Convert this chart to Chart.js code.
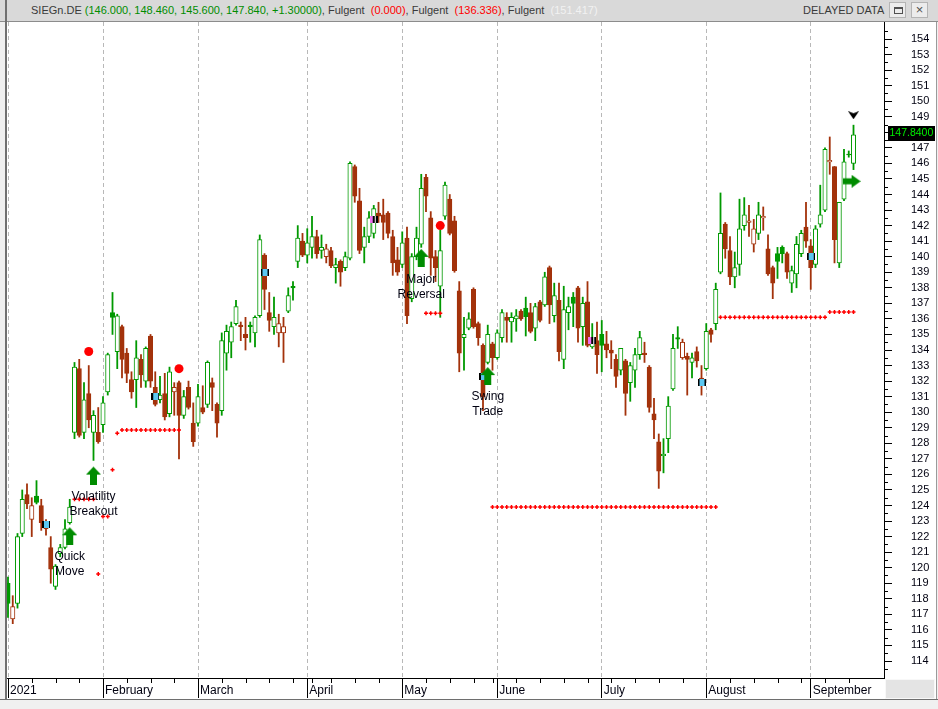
<!DOCTYPE html>
<html><head><meta charset="utf-8">
<script src="https://cdn.jsdelivr.net/npm/chart.js"></script>
<style>
html,body{margin:0;padding:0;}
body{width:938px;height:709px;background:#f0f0f0;position:relative;overflow:hidden;font-family:'Liberation Sans',Arial,sans-serif;}
#titlebar{position:absolute;left:0;top:0;width:938px;height:22px;background:#d9d9d9;border-bottom:1px solid #8c8c8c;box-sizing:border-box;}
#ttl{position:absolute;left:31px;top:4px;font-size:11px;color:#3a3a3a;white-space:pre;}
#delayed{position:absolute;left:803px;top:4px;font-size:11px;color:#3a3a3a;white-space:pre;}
.btn{position:absolute;top:2px;width:17px;height:16px;background:#ececec;border:1px solid #b4b4b4;box-sizing:border-box;}
#wrap{position:absolute;left:7px;top:22px;width:929px;height:677px;background:#fff;}
#frameL{position:absolute;left:5px;top:0px;width:2px;height:700px;background:#707070;}
#frameR{position:absolute;left:936px;top:22px;width:1px;height:678px;background:#9a9a9a;}
#corner{position:absolute;left:885px;top:679px;width:50px;height:20px;background:#e4e4e4;border:1px solid #f8f8f8;box-sizing:border-box;}
#bottom{position:absolute;left:0;top:699px;width:938px;height:10px;background:#f0f0f0;border-top:1px solid #6e6e6e;box-sizing:border-box;}
</style></head>
<body>
<div id="titlebar">
  <div id="ttl">SIEGn.DE <span id="ohlc" style="color:#008c00"></span>, Fulgent  <span id="f1" style="color:#ff0000"></span>, Fulgent  <span id="f2" style="color:#ff0000"></span>, Fulgent  <span id="f3" style="color:#f2f2f2"></span></div>
  <div id="delayed">DELAYED DATA</div>
  <div class="btn" style="left:889px"><div style="position:absolute;left:4px;top:4px;width:7px;height:4px;border:1px solid #505050;border-top-width:2px;"></div></div>
  <div class="btn" style="left:911px;text-align:center;line-height:13px;font-size:13px;color:#505050;">×</div>
</div>
<div id="frameL"></div>
<div id="wrap"><canvas id="c" width="929" height="677"></canvas></div>
<div id="frameR"></div>
<div id="corner"></div>
<div id="bottom"></div>
<script>
// ---------------- data ----------------
const monthLabels = ['2021','February','March','April','May','June','July','August','September'];
const monthStartBar = [0,20,40,63,83,103,125,147,169];
const weekStartBar = [5,10,15,25,30,35,45,50,55,60,64,68,73,78,88,93,98,102,107,112,117,122,127,132,137,142,152,157,162,167,172,177];
const priceTicks = [114,115,116,117,118,119,120,121,122,123,124,125,126,127,128,129,130,131,132,133,134,135,136,137,138,139,140,141,142,143,144,145,146,147,148,149,150,151,152,153,154];

const opens = [119.0,116.7,117.7,122.2,124.7,123.1,124.6,124.0,122.9,121.3,
118.8,120.9,121.3,122.9,128.7,132.8,128.7,131.2,128.7,128.7,
129.2,131.3,136.4,133.9,135.5,133.8,132.1,132.1,133.4,132.0,
134.9,131.6,130.8,131.2,129.9,131.3,131.9,129.8,131.6,129.3,
129.3,130.3,130.5,131.9,130.5,130.1,133.8,134.5,135.7,135.6,
135.0,135.6,135.1,136.2,140.1,136.4,135.5,135.1,135.1,136.5,
138.1,139.7,141.0,140.1,140.6,141.3,140.4,140.0,140.4,139.3,
139.7,139.3,139.9,145.8,143.6,140.6,141.3,141.5,142.8,142.7,
142.8,141.3,139.8,139.5,141.2,137.3,140.0,140.8,145.1,142.5,
140.0,138.1,142.6,143.7,142.3,137.8,134.8,135.4,137.9,135.7,
134.3,133.2,134.4,133.5,134.8,136.1,135.8,136.0,136.5,136.7,
136.4,135.4,137.1,136.9,139.3,136.2,137.2,133.4,136.4,137.4,
138.0,135.5,137.1,134.2,134.6,135.0,134.4,134.0,133.4,132.7,
133.3,131.9,132.7,133.7,133.8,132.9,129.9,128.1,127.2,128.3,
131.5,134.8,133.5,133.6,133.2,133.9,132.2,132.8,135.3,135.7,
139.0,142.1,140.4,138.7,139.5,142.0,142.2,140.8,141.5,142.5,
140.5,139.3,140.2,140.6,140.2,138.3,138.9,140.2,141.9,140.7,
139.5,142.1,143.0,146.1,145.8,139.6,143.7,146.6,146.0];

const highs = [119.4,118.2,122.2,125.0,125.4,124.5,125.6,124.4,123.1,122.0,
120.2,121.5,123.1,124.4,133.2,133.4,131.9,133.0,130.1,130.3,
131.0,133.8,137.7,136.3,135.6,134.1,132.6,134.6,133.7,134.2,
135.0,132.6,132.3,132.5,132.9,131.9,132.0,131.4,132.0,130.6,
131.8,131.7,133.3,132.2,130.6,135.1,135.6,135.8,137.2,135.8,
136.1,135.8,136.2,141.4,140.2,137.7,137.4,136.3,136.1,138.0,
138.4,142.0,141.5,141.8,142.6,141.7,141.4,140.8,140.6,139.9,
139.8,140.3,146.1,145.9,144.4,141.9,142.9,143.3,143.5,143.7,
142.9,141.7,140.6,141.6,141.9,140.2,141.9,145.3,145.3,142.9,
140.4,141.7,144.8,144.0,142.6,138.4,136.1,136.4,138.0,135.8,
134.4,135.6,134.5,135.3,136.6,136.4,136.4,136.6,136.6,137.4,
137.0,137.0,137.2,139.0,139.4,138.3,138.3,138.1,137.4,137.7,
138.1,137.4,138.4,135.7,135.8,135.9,135.2,134.6,133.7,134.1,
133.4,133.2,134.1,135.2,134.5,133.0,130.9,128.6,128.3,131.0,
135.0,135.5,134.7,133.8,133.8,134.2,133.0,135.7,135.4,138.3,
144.1,142.2,141.3,140.3,143.7,143.8,143.3,142.4,143.5,143.2,
141.4,139.4,140.6,140.7,140.3,139.4,141.3,141.7,143.5,141.1,
142.0,144.6,147.0,147.7,145.8,143.5,146.9,146.8,148.46];

const lows = [116.8,116.4,117.4,122.0,123.8,122.0,124.1,122.4,122.1,119.0,
118.6,120.7,121.2,122.8,128.3,128.4,128.3,129.0,126.9,128.0,
128.7,131.1,135.0,132.8,132.2,131.9,130.9,130.3,131.6,131.6,
131.6,130.4,130.6,129.5,129.7,129.8,127.0,129.6,130.2,127.8,
129.1,129.9,130.3,130.1,128.4,129.8,132.7,133.5,135.6,134.6,
134.0,134.5,134.2,136.1,136.6,135.2,135.0,134.2,133.2,136.4,
137.2,139.3,140.0,139.6,139.9,139.9,139.9,139.6,139.3,138.3,
138.1,139.1,139.8,143.5,140.2,139.6,140.9,141.2,142.2,141.1,
141.2,138.8,138.8,139.3,135.7,137.1,139.8,140.6,142.9,138.8,
138.4,136.1,142.4,141.4,139.0,132.6,132.7,135.3,135.4,134.3,
130.1,133.1,132.7,133.4,134.5,134.5,134.5,135.2,135.9,134.9,
135.1,134.6,135.8,136.8,135.7,135.8,133.3,132.8,135.3,135.5,
134.5,134.3,134.2,134.1,132.5,132.6,133.5,132.8,131.6,132.4,
129.8,130.7,131.6,133.4,133.2,130.0,128.3,125.1,126.1,127.4,
131.4,134.1,133.4,131.1,132.2,132.9,131.1,132.7,134.5,135.3,
138.9,139.9,138.2,138.0,138.8,141.7,141.3,140.3,141.1,141.7,
138.8,137.3,138.6,139.6,138.6,137.7,138.0,140.0,140.6,137.9,
139.3,141.9,142.9,145.3,139.6,139.3,143.6,146.4,145.6];

const closes = [117.7,117.5,122.0,124.4,124.1,124.0,124.2,122.9,122.5,119.9,
120.1,121.3,122.5,123.9,132.9,128.5,130.8,129.5,129.8,128.1,
130.6,133.7,136.1,136.2,133.4,132.5,131.3,133.5,132.4,134.1,
132.0,130.5,131.1,129.7,132.6,131.6,129.8,131.0,130.3,128.1,
131.0,130.0,133.2,131.6,129.3,134.6,135.2,135.5,136.8,135.5,
134.8,135.5,136.1,141.1,137.9,135.9,136.1,135.7,135.5,137.5,
138.0,141.2,140.1,140.9,141.3,140.2,140.6,140.5,139.4,139.5,
139.0,140.0,146.0,143.9,140.4,141.3,142.5,143.1,142.6,142.2,
141.5,139.6,139.0,140.9,136.2,140.0,141.2,144.4,143.9,139.9,
139.3,140.4,144.6,141.5,139.1,133.8,135.0,136.0,135.5,134.8,
131.0,135.0,133.5,135.1,136.4,135.9,136.1,136.2,136.0,136.15,
135.2,136.8,135.9,138.7,136.9,137.5,133.9,136.6,136.8,137.0,
135.4,137.0,134.3,134.6,133.7,134.3,134.0,133.8,132.3,134.1,
131.2,133.0,133.7,134.8,133.7,130.3,129.5,126.2,127.3,130.4,
134.1,134.7,134.5,133.4,133.5,133.3,131.9,135.2,135.0,137.9,
141.5,140.5,138.7,139.3,141.8,142.7,142.3,141.8,142.7,142.6,
138.9,138.3,139.7,140.2,139.0,139.1,140.8,141.5,141.0,139.3,
141.8,142.7,146.9,146.2,141.1,143.5,146.1,146.54,147.84];
const priorClose = 117.56;

const stopLevel = [null,null,null,null,null,null,null,null,null,null,
null,null,null,null,124.4,124.4,124.4,124.4,124.4,119.6,
123.3,123.3,126.3,128.65,128.85,128.85,128.85,128.85,128.85,128.85,
128.85,128.85,128.85,128.85,128.85,128.85,128.85,null,null,null,
null,null,null,null,null,null,null,null,null,null,
null,null,null,null,null,null,null,null,null,null,
null,null,null,null,null,null,null,null,null,null,
null,null,null,null,null,null,null,null,null,null,
null,null,null,null,null,null,null,null,136.36,136.36,
136.36,136.36,null,null,null,null,null,null,null,null,
null,null,123.9,123.9,123.9,123.9,123.9,123.9,123.9,123.9,
123.9,123.9,123.9,123.9,123.9,123.9,123.9,123.9,123.9,123.9,
123.9,123.9,123.9,123.9,123.9,123.9,123.9,123.9,123.9,123.9,
123.9,123.9,123.9,123.9,123.9,123.9,123.9,123.9,123.9,123.9,
123.9,123.9,123.9,123.9,123.9,123.9,123.9,123.9,123.9,123.9,
136.1,136.1,136.1,136.1,136.1,136.1,136.1,136.1,136.1,136.1,
136.1,136.1,136.1,136.1,136.1,136.1,136.1,136.1,136.1,136.1,
136.1,136.1,136.1,136.45,136.45,136.45,136.45,136.45,136.45];

const signalBars = [17, 36, 91];
const signalValues = [133.9, 132.8, 142.0];
const cyanMarkBars = [8, 31, 54, 100, 146, 169];
const cyanMarkValues = [122.8, 131.0, 139.0, 132.3, 131.9, 140.0];
const pinkMarkBars = [77, 123];
const pinkMarkValues = [142.4, 134.6];
const arrowBars = [13, 18, 87, 101];
const arrowTips = [122.6, 126.5, 140.5, 132.9];
const arrowTextTop = ['Quick', 'Volatility', 'Major', 'Swing'];
const arrowTextBottom = ['Move', 'Breakout', 'Reversal', 'Trade'];
const arrowTextLevel = [120.69, 124.55, 138.5, 130.98];
const lastBarMarkValue = 149.1;
const exitArrowBar = 177.6;
const exitArrowValue = 144.85;
const fulgentValues = [0.000, 136.336, 151.417];

// ---------------- title ----------------
const L = closes.length - 1;
const chg = closes[L] - closes[L - 1];
document.getElementById('ohlc').textContent = '(' + [opens[L], highs[L], lows[L], closes[L]].map(v => v.toFixed(3)).join(', ') + ', ' + (chg >= 0 ? '+' : '') + chg.toFixed(5) + ')';
document.getElementById('f1').textContent = '(' + fulgentValues[0].toFixed(3) + ')';
document.getElementById('f2').textContent = '(' + fulgentValues[1].toFixed(3) + ')';
document.getElementById('f3').textContent = '(' + fulgentValues[2].toFixed(3) + ')';

// ---------------- styles ----------------
const GREEN = '#009900', RED = '#a3320b';
const FONT = "'Liberation Sans', Arial, sans-serif";
const idx = opens.map((_, i) => i);
const candleColor = idx.map(i => closes[i] > (i ? closes[i - 1] : priorClose) ? GREEN : RED);
const hollow = idx.map(i => closes[i] > opens[i]);

function makeCanvas(w, h, draw) { const c = document.createElement('canvas'); c.width = w; c.height = h; draw(c.getContext('2d')); return c; }
const upArrowImg = makeCanvas(15, 36, g => {
  g.fillStyle = '#008c00';
  g.beginPath(); g.moveTo(7.5, 18); g.lineTo(15, 26); g.lineTo(11, 26); g.lineTo(11, 36); g.lineTo(4, 36); g.lineTo(4, 26); g.lineTo(0, 26); g.closePath(); g.fill();
});
const rightArrowImg = makeCanvas(18, 13, g => {
  g.fillStyle = '#008c00';
  g.beginPath(); g.moveTo(0, 3.5); g.lineTo(9, 3.5); g.lineTo(9, 0); g.lineTo(18, 6.5); g.lineTo(9, 13); g.lineTo(9, 9.5); g.lineTo(0, 9.5); g.closePath(); g.fill();
});
const downMarkImg = makeCanvas(11, 8, g => {
  g.fillStyle = '#000';
  g.beginPath(); g.moveTo(0, 0); g.lineTo(5.5, 2); g.lineTo(11, 0); g.lineTo(5.5, 8); g.closePath(); g.fill();
});
const cyanMarkImg = makeCanvas(8, 7, g => {
  g.fillStyle = '#000'; g.fillRect(0, 0, 2, 7); g.fillRect(7, 0, 1, 7);
  g.fillStyle = '#5cc8f2'; g.fillRect(2, 0, 5, 7);
});
const pinkMarkImg = makeCanvas(8, 7, g => {
  g.fillStyle = '#ee70ee'; g.fillRect(0, 0, 3, 7);
  g.fillStyle = '#000'; g.fillRect(3, 0, 2, 7); g.fillRect(6, 0, 2, 7);
  g.fillStyle = '#fff'; g.fillRect(5, 0, 1, 7);
});

// ---------------- plugin: annotations, minor ticks, last price ----------------
const decor = {
  id: 'decor',
  afterDatasetsDraw(chart) {
    const {ctx, chartArea, scales: {x, y}} = chart;
    ctx.save();
    ctx.beginPath(); ctx.rect(chartArea.left, chartArea.top, chartArea.width, chartArea.height); ctx.clip();
    ctx.font = '12px ' + FONT; ctx.fillStyle = '#000010'; ctx.textAlign = 'center'; ctx.textBaseline = 'middle';
    arrowBars.forEach((b, k) => {
      const px = x.getPixelForValue(b), py = y.getPixelForValue(arrowTextLevel[k]);
      ctx.fillText(arrowTextTop[k], px, py);
      ctx.fillText(arrowTextBottom[k], px, py + 15);
    });
    ctx.restore();
  },
  afterDraw(chart) {
    const {ctx, chartArea, scales: {x, y}} = chart;
    ctx.save();
    ctx.strokeStyle = '#000'; ctx.lineWidth = 1;
    ctx.beginPath();
    weekStartBar.forEach(b => { const px = Math.round(x.getPixelForValue(b)) + 0.5; ctx.moveTo(px, chartArea.bottom); ctx.lineTo(px, chartArea.bottom + 5); });
    priceTicks.forEach(v => { const py = Math.round(y.getPixelForValue(v + 0.5)) + 0.5; if (py > chartArea.top) { ctx.moveTo(chartArea.right, py); ctx.lineTo(chartArea.right + 4, py); } });
    const pyLow = Math.round(y.getPixelForValue(priceTicks[0] - 0.5)) + 0.5;
    ctx.moveTo(chartArea.right, pyLow); ctx.lineTo(chartArea.right + 4, pyLow);
    ctx.stroke();
    const py = y.getPixelForValue(closes[L]);
    ctx.fillStyle = '#000'; ctx.fillRect(chartArea.right + 4, Math.round(py) - 9, 47, 15);
    ctx.fillStyle = '#00ee00'; ctx.font = '10.5px ' + FONT; ctx.textAlign = 'left'; ctx.textBaseline = 'middle';
    ctx.fillText(closes[L].toFixed(4), chartArea.right + 5.5, Math.round(py) - 1.5);
    ctx.restore();
  }
};

const pts = (bars, vals) => bars.map((b, k) => ({x: b, y: vals[k]}));

new Chart(document.getElementById('c'), {
  type: 'bar',
  data: {
    datasets: [
      { type: 'scatter', data: pts(arrowBars, arrowTips), pointStyle: upArrowImg, pointRadius: 5, order: 0 },
      { type: 'scatter', data: [{x: exitArrowBar, y: exitArrowValue}], pointStyle: rightArrowImg, pointRadius: 5, order: 0 },
      { type: 'scatter', data: [{x: L, y: lastBarMarkValue}], pointStyle: downMarkImg, pointRadius: 5, order: 0 },
      { type: 'scatter', data: pts(cyanMarkBars, cyanMarkValues), pointStyle: cyanMarkImg, pointRadius: 4, order: 1 },
      { type: 'scatter', data: pts(pinkMarkBars, pinkMarkValues), pointStyle: pinkMarkImg, pointRadius: 4, order: 1 },
      { type: 'scatter', data: pts(signalBars, signalValues), pointStyle: 'circle', pointRadius: 4.5, pointBackgroundColor: '#ff0000', pointBorderWidth: 0, order: 2 },
      { type: 'scatter', data: idx.filter(i => stopLevel[i] !== null).map(i => ({x: i, y: stopLevel[i]})), pointStyle: 'cross', pointRadius: 2, pointBorderWidth: 1.5, pointBorderColor: '#ff0000', order: 2 },
      { type: 'bar', data: idx.map(i => ({x: i, y: [Math.min(opens[i], closes[i]), Math.max(opens[i], closes[i])]})),
        backgroundColor: idx.map(i => hollow[i] ? '#ffffff' : candleColor[i]), borderColor: candleColor, borderWidth: 1,
        borderSkipped: false, barThickness: 4.4, grouped: false, order: 3 },
      { type: 'bar', data: idx.map(i => ({x: i, y: [lows[i], highs[i]]})),
        backgroundColor: candleColor, borderWidth: 0, barThickness: 1.15, grouped: false, order: 4 }
    ]
  },
  options: {
    responsive: false, animation: false, devicePixelRatio: 1, events: [],
    layout: { padding: 0, autoPadding: false },
    plugins: { legend: { display: false }, tooltip: { enabled: false }, title: { display: false } },
    scales: {
      x: {
        type: 'linear', position: 'bottom', offset: false,
        min: -1 / 4.75, max: -1 / 4.75 + 877 / 4.75,
        afterBuildTicks: s => { s.ticks = monthStartBar.map(v => ({value: v})); },
        afterFit: s => { s.height = 21; s.paddingLeft = 0; s.paddingRight = 0; },
        ticks: { autoSkip: false, maxRotation: 0, minRotation: 0, align: 'start', labelOffset: 2, padding: -15,
                 color: '#000010', font: { family: FONT, size: 12 }, callback: (v, i) => monthLabels[i] },
        grid: { display: true, drawOnChartArea: true, drawTicks: true, offset: false, tickLength: 20,
                color: '#b8b8b8', lineWidth: 1, tickColor: '#000', tickWidth: 1, tickBorderDash: [] },
        border: { display: true, color: '#000', width: 1, dash: [4, 3] }
      },
      y: {
        type: 'linear', position: 'right', min: 154 - 639 / 15.55, max: 154 + 17 / 15.55,
        afterBuildTicks: s => { s.ticks = priceTicks.map(v => ({value: v})); },
        afterFit: s => { s.width = 52; s.paddingTop = 0; s.paddingBottom = 0; },
        ticks: { autoSkip: false, padding: 19, color: '#000010', font: { family: FONT, size: 11 }, callback: v => String(v) },
        grid: { display: true, drawOnChartArea: false, drawTicks: true, tickLength: 8, tickColor: '#000', offset: false },
        border: { display: true, color: '#000', width: 1 }
      }
    }
  },
  plugins: [decor]
});
</script>
</body></html>
